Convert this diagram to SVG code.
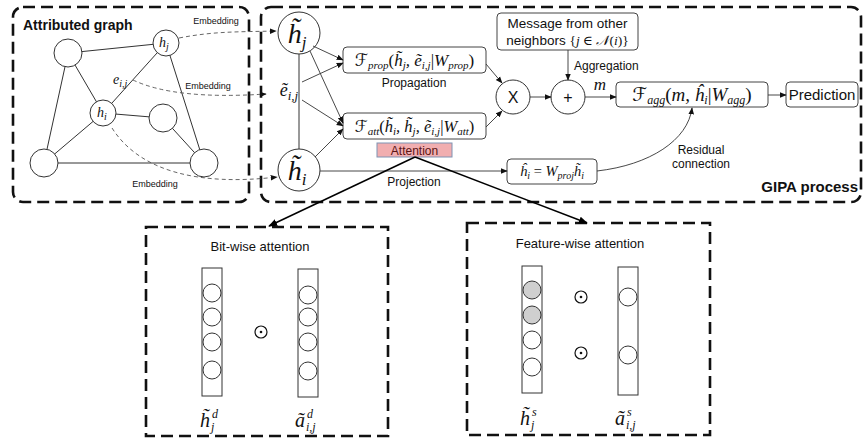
<svg xmlns="http://www.w3.org/2000/svg" width="864" height="439" viewBox="0 0 864 439">
<defs>
<marker id="ah" viewBox="0 0 10 10" refX="9" refY="5" markerWidth="7" markerHeight="7" markerUnits="userSpaceOnUse" orient="auto"><path d="M0,1 L10,5 L0,9 z" fill="#111"/></marker>
<marker id="ahb" viewBox="0 0 10 10" refX="9" refY="5" markerWidth="9" markerHeight="9" markerUnits="userSpaceOnUse" orient="auto"><path d="M0,1 L10,5 L0,9 z" fill="#000"/></marker>
</defs>
<style>
.sans{font-family:"Liberation Sans",Arial,sans-serif;fill:#111}
.bold{font-family:"Liberation Sans",Arial,sans-serif;font-weight:bold;fill:#111}
.math{font-family:"Liberation Serif","DejaVu Serif",serif;font-style:italic;fill:#111}
.cal{font-family:"DejaVu Serif","DejaVu Sans",serif;font-style:normal}
.up{font-style:normal}
.frame{fill:none;stroke:#111;stroke-width:2.6;stroke-dasharray:12 6}
.node{fill:#fff;stroke:#333;stroke-width:1}
.box{fill:#fff;stroke:#444;stroke-width:1}
.edge{stroke:#333;stroke-width:1;fill:none}
.conn{stroke:#333;stroke-width:0.9;fill:none;marker-end:url(#ah)}
.emb{stroke:#555;stroke-width:0.9;fill:none;stroke-dasharray:4 3;marker-end:url(#ah)}
.att{stroke:#000;stroke-width:1.5;fill:none;marker-end:url(#ahb)}
.col{fill:#fff;stroke:#333;stroke-width:1}
</style>

<!-- frames -->
<g id="attributed-graph-frame">
<rect class="frame" x="13" y="7" width="236" height="195" rx="10"/>
<text class="bold" x="23" y="30" font-size="14">Attributed graph</text>
</g>
<g id="gipa-frame">
<rect class="frame" x="261" y="7" width="600" height="195" rx="10"/>
<text class="bold" x="858" y="192" font-size="15" text-anchor="end">GIPA process</text>
</g>

<!-- graph edges -->
<g id="graph-edges">
<line class="edge" x1="68" y1="53" x2="166" y2="43"/>
<line class="edge" x1="68" y1="53" x2="103" y2="113"/>
<line class="edge" x1="68" y1="53" x2="44" y2="163"/>
<line class="edge" x1="166" y1="43" x2="103" y2="113"/>
<line class="edge" x1="166" y1="43" x2="204" y2="163"/>
<line class="edge" x1="103" y1="113" x2="163" y2="118"/>
<line class="edge" x1="163" y1="118" x2="204" y2="163"/>
<line class="edge" x1="103" y1="113" x2="44" y2="163"/>
<line class="edge" x1="44" y1="163" x2="204" y2="163"/>
<text class="math" x="113" y="84" font-size="14">e<tspan dy="3" font-size="10">i,j</tspan></text>
</g>
<g id="g-hj"><circle class="node" cx="166" cy="43" r="13"/><text class="math" x="164" y="47" font-size="14" text-anchor="middle">h<tspan dy="3" font-size="10">j</tspan></text></g>
<g id="g-n1"><circle class="node" cx="68" cy="53" r="14"/></g>
<g id="g-hi"><circle class="node" cx="103" cy="113" r="13"/><text class="math" x="102" y="117" font-size="14" text-anchor="middle">h<tspan dy="3" font-size="10">i</tspan></text></g>
<g id="g-n2"><circle class="node" cx="163" cy="118" r="14"/></g>
<g id="g-n3"><circle class="node" cx="44" cy="163" r="14"/></g>
<g id="g-n4"><circle class="node" cx="204" cy="163" r="14"/></g>

<!-- GIPA nodes -->
<g id="ht-j"><circle class="node" cx="299" cy="33" r="21"/><text class="math" x="297" y="43" font-size="28" text-anchor="middle">h̃<tspan dy="5" font-size="17">j</tspan></text></g>
<g id="et-ij"><text class="math" x="289" y="96" font-size="18" text-anchor="middle">ẽ<tspan dy="4" font-size="13">i,j</tspan></text></g>
<g id="ht-i"><circle class="node" cx="299" cy="170" r="21"/><text class="math" x="297" y="180" font-size="28" text-anchor="middle">h̃<tspan dy="5" font-size="17">i</tspan></text></g>

<g id="f-prop"><rect class="box" x="343" y="47" width="143" height="26" rx="4"/>
<text class="math" x="414.5" y="65.5" font-size="17" text-anchor="middle"><tspan class="cal">ℱ</tspan><tspan dy="3" font-size="11">prop</tspan><tspan dy="-3" class="up">(</tspan>h̃<tspan dy="3" font-size="11">j</tspan><tspan dy="-3">, ẽ</tspan><tspan dy="3" font-size="11">i,j</tspan><tspan dy="-3" class="up">|</tspan>W<tspan dy="3" font-size="11">prop</tspan><tspan dy="-3" class="up">)</tspan></text>
<text class="sans" x="414" y="87" font-size="12" text-anchor="middle">Propagation</text>
</g>
<g id="f-att"><rect class="box" x="343" y="113" width="143" height="26" rx="4"/>
<text class="math" x="414.5" y="131.5" font-size="16.5" text-anchor="middle"><tspan class="cal">ℱ</tspan><tspan dy="3" font-size="11">att</tspan><tspan dy="-3" class="up">(</tspan>h̃<tspan dy="3" font-size="11">i</tspan><tspan dy="-3">, h̃</tspan><tspan dy="3" font-size="11">j</tspan><tspan dy="-3">, ẽ</tspan><tspan dy="3" font-size="11">i,j</tspan><tspan dy="-3" class="up">|</tspan>W<tspan dy="3" font-size="11">att</tspan><tspan dy="-3" class="up">)</tspan></text>
</g>
<g id="attention"><rect x="377" y="143" width="75" height="14" fill="#f1aeb0" stroke="#7f93b3" stroke-width="1"/>
<text class="sans" x="414.5" y="154.5" font-size="12" text-anchor="middle" style="fill:#5a1414">Attention</text></g>

<g id="mult"><circle class="node" cx="513" cy="97" r="17"/><text class="sans" x="513" y="103" font-size="16" text-anchor="middle">X</text></g>
<g id="plus"><circle class="node" cx="568" cy="97" r="17"/><text class="sans" x="568" y="103" font-size="16" text-anchor="middle">+</text></g>
<g id="message"><rect class="box" x="497" y="13" width="141" height="37" rx="4"/>
<text class="sans" x="567.5" y="28" font-size="13.5" text-anchor="middle">Message from other</text>
<text class="sans" x="567.5" y="45" font-size="13.5" text-anchor="middle">neighbors <tspan class="math up">{</tspan><tspan class="math">j</tspan><tspan class="math up"> ∈ </tspan><tspan class="math">𝒩</tspan><tspan class="math up">(</tspan><tspan class="math">i</tspan><tspan class="math up">)}</tspan></text>
</g>
<g id="f-agg"><rect class="box" x="616" y="82" width="152" height="25" rx="4"/>
<text class="math" x="692" y="100.5" font-size="19" text-anchor="middle"><tspan class="cal">ℱ</tspan><tspan dy="3" font-size="12">agg</tspan><tspan dy="-3" class="up">(</tspan>m, ĥ<tspan dy="3" font-size="12">i</tspan><tspan dy="-3" class="up">|</tspan>W<tspan dy="3" font-size="12">agg</tspan><tspan dy="-3" class="up">)</tspan></text>
</g>
<g id="prediction"><rect class="box" x="786" y="82" width="72" height="25" rx="4"/>
<text class="sans" x="822" y="100" font-size="15" text-anchor="middle">Prediction</text></g>
<g id="h-hat"><rect class="box" x="507" y="159" width="90" height="25" rx="4"/>
<text class="math" x="552" y="176" font-size="14.5" text-anchor="middle">ĥ<tspan dy="3" font-size="10">i</tspan><tspan dy="-3" class="up"> = </tspan>W<tspan dy="3" font-size="10">proj</tspan><tspan dy="-3">h̃</tspan><tspan dy="3" font-size="10">i</tspan></text></g>

<!-- bottom boxes -->
<g id="bitwise">
<rect x="146" y="227" width="242" height="209" fill="none" stroke="#111" stroke-width="2.6" stroke-dasharray="12 6"/>
<text class="sans" x="260" y="251" font-size="13" text-anchor="middle">Bit-wise attention</text>
<rect class="col" x="202" y="268" width="20" height="128"/>
<circle class="col" cx="212" cy="293" r="9"/><circle class="col" cx="212" cy="317" r="9"/><circle class="col" cx="212" cy="342" r="9"/><circle class="col" cx="212" cy="370" r="9"/>
<rect class="col" x="298" y="269" width="20" height="128"/>
<circle class="col" cx="308" cy="295" r="9"/><circle class="col" cx="308" cy="317" r="9"/><circle class="col" cx="308" cy="342" r="9"/><circle class="col" cx="308" cy="371" r="9"/>
<circle cx="261" cy="332" r="6" fill="none" stroke="#111" stroke-width="1.2"/><circle cx="261" cy="332" r="1.3" fill="#111"/>
<text class="math" x="205" y="427" font-size="20" text-anchor="middle">h̃</text><text class="math" x="212" y="418" font-size="12">d</text><text class="math" x="211" y="431" font-size="12">j</text>
<text class="math" x="300" y="427" font-size="20" text-anchor="middle">ã</text><text class="math" x="307" y="418" font-size="12">d</text><text class="math" x="306" y="431" font-size="12">i,j</text>
</g>
<g id="featurewise">
<rect x="467" y="223" width="243" height="212" fill="none" stroke="#111" stroke-width="2.6" stroke-dasharray="12 6"/>
<text class="sans" x="580" y="248" font-size="13" text-anchor="middle">Feature-wise attention</text>
<rect class="col" x="522" y="266" width="20" height="127"/>
<circle cx="532" cy="290" r="9" fill="#cfcfcf" stroke="#333"/><circle cx="532" cy="315" r="9" fill="#cfcfcf" stroke="#333"/><circle class="col" cx="532" cy="340" r="9"/><circle class="col" cx="532" cy="367" r="9"/>
<rect class="col" x="618" y="267" width="20" height="128"/>
<circle class="col" cx="628" cy="297" r="9"/><circle class="col" cx="628" cy="355" r="9"/>
<circle cx="581" cy="297" r="6" fill="none" stroke="#111" stroke-width="1.2"/><circle cx="581" cy="297" r="1.3" fill="#111"/>
<circle cx="581" cy="353" r="6" fill="none" stroke="#111" stroke-width="1.2"/><circle cx="581" cy="353" r="1.3" fill="#111"/>
<text class="math" x="525" y="425" font-size="20" text-anchor="middle">h̃</text><text class="math" x="532" y="416" font-size="12">s</text><text class="math" x="531" y="429" font-size="12">j</text>
<text class="math" x="620" y="425" font-size="20" text-anchor="middle">ã</text><text class="math" x="627" y="416" font-size="12">s</text><text class="math" x="626" y="429" font-size="12">i,j</text>
</g>

<!-- connectors -->
<g id="connectors">
<path class="emb" d="M179,38 C215,31 240,32 276,31"/>
<path class="emb" d="M133,80 Q175,100 266,94"/>
<path class="emb" d="M112,128 C140,172 200,186 277,177"/>
<text class="sans" x="216" y="24" font-size="9" text-anchor="middle">Embedding</text>
<text class="sans" x="208" y="89" font-size="9" text-anchor="middle">Embedding</text>
<text class="sans" x="155" y="187" font-size="9" text-anchor="middle">Embedding</text>

<line class="edge" x1="299" y1="54" x2="299" y2="149"/>
<line class="conn" x1="313" y1="46" x2="343" y2="60"/>
<line class="conn" x1="310" y1="51" x2="343" y2="123"/>
<line class="conn" x1="302" y1="82" x2="343" y2="63"/>
<line class="conn" x1="302" y1="100" x2="343" y2="126"/>
<line class="conn" x1="315" y1="157" x2="343" y2="129"/>
<line class="conn" x1="486" y1="64" x2="502" y2="83"/>
<line class="conn" x1="486" y1="127" x2="502" y2="111"/>
<line class="conn" x1="530" y1="97" x2="551" y2="97"/>
<line class="conn" x1="568" y1="50" x2="568" y2="80"/>
<text class="sans" x="574" y="70" font-size="12">Aggregation</text>
<line class="conn" x1="585" y1="97" x2="616" y2="97"/>
<text class="math" x="600" y="90" font-size="17" text-anchor="middle">m</text>
<line class="conn" x1="768" y1="95" x2="786" y2="95"/>
<line class="conn" x1="320" y1="171" x2="507" y2="171"/>
<text class="sans" x="414" y="186" font-size="12" text-anchor="middle">Projection</text>
<path class="conn" d="M597,171 C650,165 688,140 692,108"/>
<text class="sans" x="701" y="154" font-size="12" text-anchor="middle">Residual</text>
<text class="sans" x="701" y="168" font-size="12" text-anchor="middle">connection</text>
<line class="att" x1="415" y1="157" x2="269" y2="226"/>
<line class="att" x1="415" y1="157" x2="587" y2="223"/>
</g>
</svg>
